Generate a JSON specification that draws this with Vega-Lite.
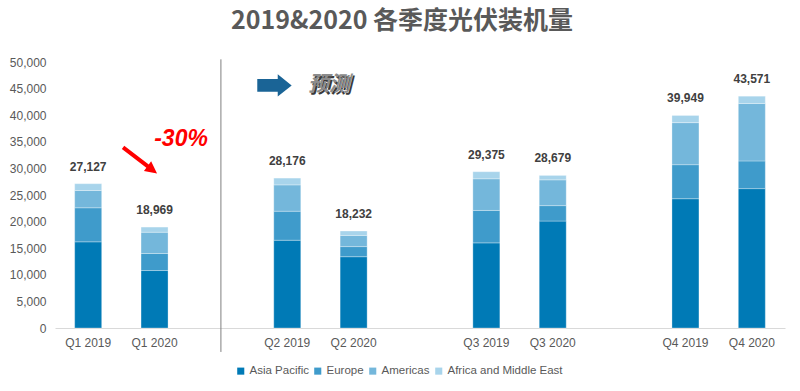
{
  "$schema": "https://vega.github.io/schema/vega-lite/v6.json",
  "width": 730,
  "height": 266,
  "autosize": "none",
  "padding": {"left": 55, "top": 62, "right": 15, "bottom": 63},
  "background": "white",
  "title": {
    "text": "2019&2020 各季度光伏装机量",
    "font": "Noto Sans CJK SC",
    "fontSize": 25,
    "fontWeight": "bold",
    "color": "#595959",
    "anchor": "middle",
    "offset": 22,
    "dx": -18
  },
  "config": {
    "view": {"stroke": null},
    "font": "Liberation Sans",
    "axisY": {
      "format": ",d",
      "grid": false,
      "domain": false,
      "ticks": false,
      "labelFontSize": 12,
      "labelColor": "#595959",
      "labelPadding": 9,
      "tickCount": 10
    }
  },
  "datasets": {
    "seg": [
      {"q": "Q1 2019", "region": "Asia Pacific", "k": 1, "v": 16200},
      {"q": "Q1 2019", "region": "Europe", "k": 2, "v": 6400},
      {"q": "Q1 2019", "region": "Americas", "k": 3, "v": 3250},
      {"q": "Q1 2019", "region": "Africa and Middle East", "k": 4, "v": 1277},
      {"q": "Q1 2020", "region": "Asia Pacific", "k": 1, "v": 10800},
      {"q": "Q1 2020", "region": "Europe", "k": 2, "v": 3200},
      {"q": "Q1 2020", "region": "Americas", "k": 3, "v": 4000},
      {"q": "Q1 2020", "region": "Africa and Middle East", "k": 4, "v": 969},
      {"q": "Q2 2019", "region": "Asia Pacific", "k": 1, "v": 16500},
      {"q": "Q2 2019", "region": "Europe", "k": 2, "v": 5450},
      {"q": "Q2 2019", "region": "Americas", "k": 3, "v": 4950},
      {"q": "Q2 2019", "region": "Africa and Middle East", "k": 4, "v": 1276},
      {"q": "Q2 2020", "region": "Asia Pacific", "k": 1, "v": 13400},
      {"q": "Q2 2020", "region": "Europe", "k": 2, "v": 1900},
      {"q": "Q2 2020", "region": "Americas", "k": 3, "v": 2100},
      {"q": "Q2 2020", "region": "Africa and Middle East", "k": 4, "v": 832},
      {"q": "Q3 2019", "region": "Asia Pacific", "k": 1, "v": 16000},
      {"q": "Q3 2019", "region": "Europe", "k": 2, "v": 6100},
      {"q": "Q3 2019", "region": "Americas", "k": 3, "v": 5950},
      {"q": "Q3 2019", "region": "Africa and Middle East", "k": 4, "v": 1325},
      {"q": "Q3 2020", "region": "Asia Pacific", "k": 1, "v": 20100},
      {"q": "Q3 2020", "region": "Europe", "k": 2, "v": 2900},
      {"q": "Q3 2020", "region": "Americas", "k": 3, "v": 4850},
      {"q": "Q3 2020", "region": "Africa and Middle East", "k": 4, "v": 829},
      {"q": "Q4 2019", "region": "Asia Pacific", "k": 1, "v": 24300},
      {"q": "Q4 2019", "region": "Europe", "k": 2, "v": 6400},
      {"q": "Q4 2019", "region": "Americas", "k": 3, "v": 7900},
      {"q": "Q4 2019", "region": "Africa and Middle East", "k": 4, "v": 1349},
      {"q": "Q4 2020", "region": "Asia Pacific", "k": 1, "v": 26200},
      {"q": "Q4 2020", "region": "Europe", "k": 2, "v": 5200},
      {"q": "Q4 2020", "region": "Americas", "k": 3, "v": 10800},
      {"q": "Q4 2020", "region": "Africa and Middle East", "k": 4, "v": 1371}
    ],
    "tot": [
      {"q": "Q1 2019", "total": 27127},
      {"q": "Q1 2020", "total": 18969},
      {"q": "Q2 2019", "total": 28176},
      {"q": "Q2 2020", "total": 18232},
      {"q": "Q3 2019", "total": 29375},
      {"q": "Q3 2020", "total": 28679},
      {"q": "Q4 2019", "total": 39949},
      {"q": "Q4 2020", "total": 43571}
    ]
  },
  "encoding": {
    "x": {
      "field": "q",
      "type": "nominal",
      "scale": {
        "domain": ["Q1 2019", "Q1 2020", "g1", "Q2 2019", "Q2 2020", "g2", "Q3 2019", "Q3 2020", "g3", "Q4 2019", "Q4 2020"],
        "paddingInner": 0,
        "paddingOuter": 0
      },
      "axis": {
        "title": null,
        "labelAngle": 0,
        "labelExpr": "test(/^g/, datum.value) ? '' : datum.value",
        "labelFontSize": 12,
        "labelColor": "#595959",
        "labelPadding": 9,
        "ticks": false,
        "domainColor": "#D9D9D9",
        "domainWidth": 1
      }
    }
  },
  "layer": [
    {
      "data": {"name": "seg"},
      "mark": {"type": "bar", "width": 27, "stroke": "#ffffff", "strokeWidth": 0.5, "strokeOpacity": 0.6},
      "encoding": {
        "y": {
          "field": "v",
          "type": "quantitative",
          "aggregate": "sum",
          "stack": "zero",
          "scale": {"domain": [0, 50000], "nice": false},
          "axis": {"title": null, "format": ",d", "tickCount": 10}
        },
        "order": {"field": "k", "type": "quantitative", "sort": "ascending"},
        "color": {
          "field": "region",
          "type": "nominal",
          "scale": {
            "domain": ["Asia Pacific", "Europe", "Americas", "Africa and Middle East"],
            "range": ["#007AB6", "#3F9BCB", "#74B7DB", "#A8D4EB"]
          },
          "legend": {
            "title": null,
            "orient": "none",
            "legendX": 180,
            "legendY": 303,
            "direction": "horizontal",
            "symbolType": "square",
            "symbolSize": 50,
            "symbolStrokeWidth": 0,
            "labelFontSize": 11.5,
            "labelColor": "#595959",
            "labelOffset": 3,
            "columnPadding": 3,
            "padding": 0
          }
        }
      }
    },
    {
      "data": {"name": "tot"},
      "mark": {"type": "text", "fontWeight": "bold", "fontSize": 12, "color": "#404040", "baseline": "middle", "dy": -17},
      "encoding": {
        "y": {"field": "total", "type": "quantitative", "axis": {"title": null, "format": ",d", "tickCount": 10}},
        "text": {"field": "total", "type": "quantitative", "format": ","}
      }
    },
    {
      "data": {"values": [{"q": "g1", "top": 50500, "bottom": -4500}]},
      "mark": {"type": "rule", "color": "#7F7F7F", "strokeWidth": 1},
      "encoding": {
        "y": {"field": "top", "type": "quantitative", "axis": {"title": null, "format": ",d", "tickCount": 10}},
        "y2": {"field": "bottom"}
      }
    },
    {
      "data": {"values": [{"q": "Q1 2020", "v": 31500}]},
      "mark": {
        "type": "point",
        "shape": "M-0.79,-0.73 L0.435,0.205 L0.555,0.045 L0.85,0.65 L0.195,0.525 L0.315,0.365 L-0.91,-0.57 Z",
        "size": 1600,
        "filled": true,
        "color": "#FF0000",
        "opacity": 1,
        "strokeWidth": 0,
        "xOffset": -14.5
      },
      "encoding": {"y": {"field": "v", "type": "quantitative", "axis": {"title": null, "format": ",d", "tickCount": 10}}}
    },
    {
      "data": {"values": [{"q": "Q1 2020", "v": 35450, "label": "-30%"}]},
      "mark": {"type": "text", "fontSize": 23, "fontWeight": "bold", "fontStyle": "italic", "color": "#FF0000", "baseline": "middle", "align": "center", "dx": 26.5},
      "encoding": {
        "y": {"field": "v", "type": "quantitative", "axis": {"title": null, "format": ",d", "tickCount": 10}},
        "text": {"field": "label"}
      }
    },
    {
      "data": {"values": [{"q": "Q2 2019", "v": 45600}]},
      "mark": {
        "type": "point",
        "shape": "M-1,-0.37 L0.19,-0.37 L0.19,-0.65 L1,0 L0.19,0.65 L0.19,0.37 L-1,0.37 Z",
        "size": 1183,
        "filled": true,
        "color": "#1A6496",
        "opacity": 1,
        "strokeWidth": 0,
        "xOffset": -12.8
      },
      "encoding": {"y": {"field": "v", "type": "quantitative", "axis": {"title": null, "format": ",d", "tickCount": 10}}}
    },
    {
      "data": {"values": [{"q": "Q2 2019", "v": 45600, "label": "预测"}]},
      "mark": {"type": "text", "font": "Noto Sans CJK SC", "fontSize": 21, "fontWeight": "bold", "fontStyle": "italic", "color": "#3A3A3A", "baseline": "middle", "align": "center", "dx": 43.5, "dy": 1.8},
      "encoding": {
        "y": {"field": "v", "type": "quantitative", "axis": {"title": null, "format": ",d", "tickCount": 10}},
        "text": {"field": "label"}
      }
    },
    {
      "data": {"values": [{"q": "Q2 2019", "v": 45600, "label": "预测"}]},
      "mark": {"type": "text", "font": "Noto Sans CJK SC", "fontSize": 21, "fontWeight": "bold", "fontStyle": "italic", "color": "#8C8C8C", "baseline": "middle", "align": "center", "dx": 41.7},
      "encoding": {
        "y": {"field": "v", "type": "quantitative", "axis": {"title": null, "format": ",d", "tickCount": 10}},
        "text": {"field": "label"}
      }
    }
  ]
}
